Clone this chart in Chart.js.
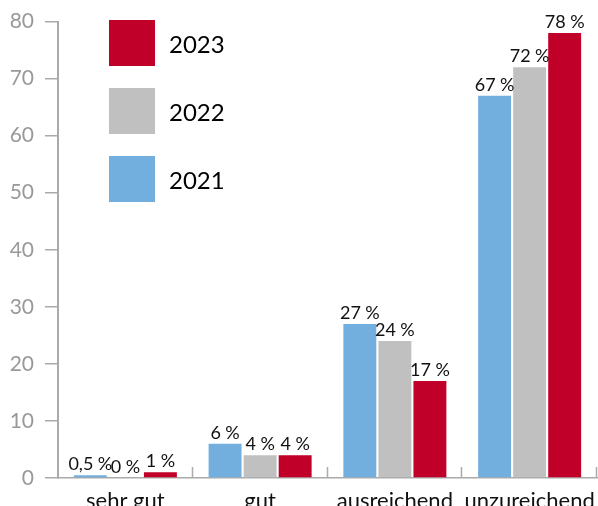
<!DOCTYPE html>
<html>
<head>
<meta charset="utf-8">
<script src="https://cdn.jsdelivr.net/npm/chart.js@4"></script>
<style>
  html, body { margin: 0; padding: 0; background: #fff; }
  #wrap { position: relative; width: 598px; height: 506px; }
  #legend { position: absolute; left: 109px; top: 20px; font-family: Lato, sans-serif; }
  .item { display: flex; align-items: center; height: 46px; margin-bottom: 22px; }
  .swatch { width: 46px; height: 46px; margin-right: 14px; }
  .item span { font-size: 24px; color: #000; }
</style>
</head>
<body>
<div id="wrap">
  <canvas id="chart" width="598" height="506"></canvas>
  <div id="legend"></div>
</div>
<script>
const categories = ["sehr gut", "gut", "ausreichend", "unzureichend"];
const values2021 = [0.5, 6, 27, 67];
const values2022 = [0, 4, 24, 72];
const values2023 = [1, 4, 17, 78];
const labels2021 = ["0,5", "6", "27", "67"];
const labels2022 = ["0", "4", "24", "72"];
const labels2023 = ["1", "4", "17", "78"];
const yTicks = [0, 10, 20, 30, 40, 50, 60, 70, 80];

const series = [
  { name: "2021", data: values2021, text: labels2021, color: "#72aede" },
  { name: "2022", data: values2022, text: labels2022, color: "#c0c0c0" },
  { name: "2023", data: values2023, text: labels2023, color: "#c00028" },
];

const FONT = "Lato, sans-serif";

// value labels above each bar, e.g. "27 %"
const valueLabels = {
  id: "valueLabels",
  afterDatasetsDraw(chart) {
    const ctx = chart.ctx;
    ctx.save();
    ctx.font = "18px " + FONT;
    ctx.fillStyle = "#111";
    ctx.textAlign = "center";
    ctx.textBaseline = "alphabetic";
    chart.data.datasets.forEach((ds, di) => {
      chart.getDatasetMeta(di).data.forEach((bar, i) => {
        ctx.fillText(series[di].text[i] + "\u202f%", bar.x, bar.y - 5);
      });
    });
    ctx.restore();
  },
};

// short upward ticks on the x axis between categories
const categoryDividers = {
  id: "categoryDividers",
  afterDraw(chart) {
    const x = chart.scales.x;
    const y0 = chart.chartArea.bottom;
    const half = (x.getPixelForValue(1) - x.getPixelForValue(0)) / 2;
    const ctx = chart.ctx;
    ctx.save();
    ctx.strokeStyle = "#aaa";
    ctx.lineWidth = 1.5;
    for (let i = 0; i < categories.length; i++) {
      const px = Math.round(x.getPixelForValue(i) + half) - 0.5;
      ctx.beginPath();
      ctx.moveTo(px, y0);
      ctx.lineTo(px, y0 - 11);
      ctx.stroke();
    }
    ctx.restore();
  },
};

new Chart(document.getElementById("chart"), {
  type: "bar",
  data: {
    labels: categories,
    datasets: series.map(s => ({
      label: s.name,
      data: s.data,
      backgroundColor: s.color,
      categoryPercentage: 0.78,
      barPercentage: 0.94,
    })),
  },
  options: {
    responsive: false,
    animation: false,
    layout: { padding: { top: 10, right: 1, left: 0, bottom: 0 } },
    plugins: {
      legend: { display: false },
      tooltip: { enabled: false },
    },
    scales: {
      x: {
        grid: { display: false },
        border: { color: "#aaa", width: 1.5 },
        ticks: {
          color: "#111",
          font: { family: FONT, size: 22 },
          padding: 2,
          maxRotation: 0,
          minRotation: 0,
          autoSkip: false,
        },
        afterFit: s => { s.height = 28; },
      },
      y: {
        min: 0,
        max: 80,
        afterBuildTicks: s => { s.ticks = yTicks.map(v => ({ value: v })); },
        grid: { drawOnChartArea: false, tickLength: 13, color: "#aaa", lineWidth: 1.5 },
        border: { color: "#aaa", width: 2 },
        ticks: { color: "#999", font: { family: FONT, size: 21, lineHeight: 1 }, padding: 11 },
        afterFit: s => { s.width = 58; },
      },
    },
  },
  plugins: [valueLabels, categoryDividers],
});

// legend, newest year on top
const legend = document.getElementById("legend");
series.slice().reverse().forEach(s => {
  const row = document.createElement("div");
  row.className = "item";
  row.innerHTML = `<div class="swatch" style="background:${s.color}"></div><span>${s.name}</span>`;
  legend.appendChild(row);
});
</script>
</body>
</html>
